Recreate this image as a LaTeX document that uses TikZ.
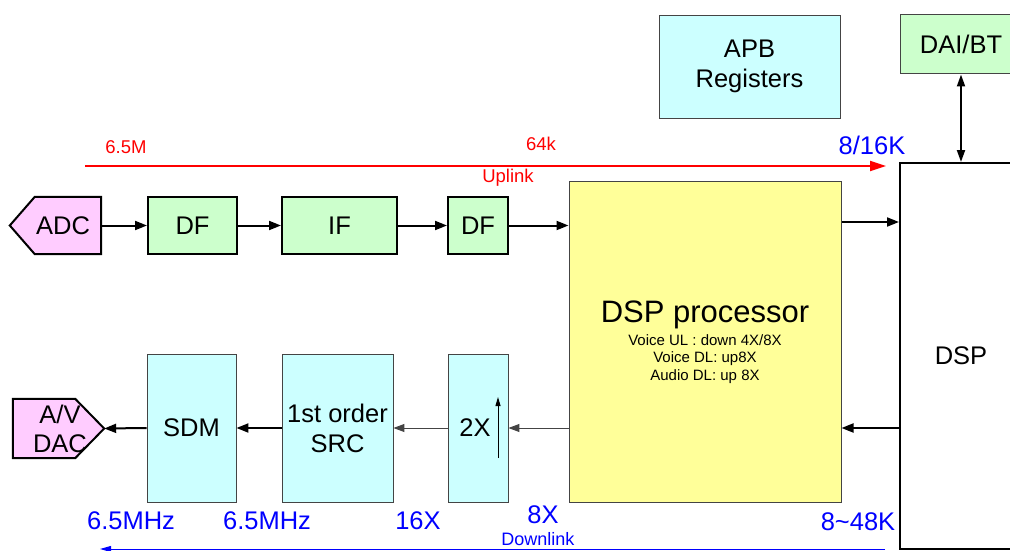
\documentclass[tikz,border=0pt]{standalone}
\usepackage{fontspec}
\setmainfont{Liberation Sans}
\usetikzlibrary{arrows.meta}
\definecolor{gfill}{HTML}{CCFFCC}
\definecolor{cfill}{HTML}{CCFFFF}
\definecolor{yfill}{HTML}{FFFF99}
\definecolor{pfill}{HTML}{FFCCFF}
\definecolor{ublue}{HTML}{0000FF}
\definecolor{ured}{HTML}{FF0000}
\definecolor{thingray}{HTML}{444444}
\begin{document}
\begin{tikzpicture}[x=1pt,y=-1pt,
  lbl/.style={font=\fontsize{25.5}{30}\selectfont, align=center},
  gbox/.style={draw=black, line width=2pt, fill=gfill, inner sep=0pt, lbl},
  cbox/.style={draw=thingray, line width=0.9pt, fill=cfill, inner sep=0pt, lbl},
  plain/.style={inner sep=0pt, lbl},
  thickarr/.style={line width=2pt, -{Triangle[length=12pt,width=9pt]}},
  thinarr/.style={line width=1pt, draw=thingray, -{Triangle[length=11pt,width=8pt]}},
  redtxt/.style={text=ured, font=\fontsize{18.5}{22}\selectfont, inner sep=0pt},
  bluetxt/.style={text=ublue, font=\fontsize{25.5}{30}\selectfont, inner sep=0pt}]
\useasboundingbox (0,0) rectangle (1010,551);
\clip (0,0) rectangle (1010,551);

% top blocks
\node[cbox, minimum width=181pt, minimum height=103pt] (apb) at (749.5,66.5) {APB\\Registers};
\node[gbox, line width=1pt, draw=thingray, minimum width=122pt, minimum height=59pt] (dai) at (961,44.5) {DAI/BT};

% DSP
\node[draw=black, line width=2pt, fill=white, inner sep=0pt, lbl, minimum width=122pt, minimum height=386pt] (dsp) at (961,356) {DSP};

% DSP processor
\node[draw=thingray, line width=1pt, fill=yfill, minimum width=272pt, minimum height=321pt, inner sep=0pt] (dspp) at (705,341.5) {};
\node[inner sep=0pt, font=\fontsize{31}{37}\selectfont] (dspt) at (705,315) {DSP processor};
\node[inner sep=0pt, font=\fontsize{15}{17.5}\selectfont, align=center, anchor=north] (dsps) at (705,334) {Voice UL : down 4X/8X\\Voice DL: up8X\\Audio DL: up 8X};

% uplink row
\node[minimum width=91pt, minimum height=57pt, inner sep=0pt] (adc) at (55.5,225.5) {};
\filldraw[fill=pfill, draw=black, line width=2pt, line join=miter]
  (adc.west) -- ([xshift=25pt]adc.north west) -- (adc.north east) -- (adc.south east) -- ([xshift=25pt]adc.south west) -- cycle;
\node[plain] (adct) at (63,225.5) {ADC};
\node[gbox, minimum width=89pt, minimum height=57pt] (df1) at (192.5,225.5) {DF};
\node[gbox, minimum width=115pt, minimum height=57pt] (if) at (339.5,225.5) {IF};
\node[gbox, minimum width=60pt, minimum height=57pt] (df2) at (478,225.5) {DF};

\draw[thickarr] (adc.east) -- (df1.west);
\draw[thickarr] (df1.east) -- (if.west);
\draw[thickarr] (if.east) -- (df2.west);
\draw[thickarr] (df2.east) -- (df2.east -| dspp.west);
\draw[thickarr] ([yshift=3.5pt]dspp.east |- df2.east) -- ([yshift=3.5pt]dsp.west |- df2.east);

% downlink row
\node[minimum width=91pt, minimum height=59pt, inner sep=0pt] (dac) at (58.5,428.5) {};
\filldraw[fill=pfill, draw=black, line width=2pt, line join=miter]
  (dac.north west) -- ([xshift=-29pt]dac.north east) -- (dac.east) -- ([xshift=-29pt]dac.south east) -- (dac.south west) -- cycle;
\node[plain] (dact) at (60,428.5) {A/V\\[-1pt]DAC};
\node[cbox, minimum width=89pt, minimum height=148pt] (sdm) at (191.5,428) {SDM};
\node[cbox, minimum width=111pt, minimum height=148pt] (src) at (337.5,428) {1st order\\SRC};
\node[cbox, minimum width=60pt, minimum height=148pt] (x2) at (478,428) {};
\node[plain] (x2t) at (475,428) {2X};
\coordinate (upS) at (498,458);
\coordinate (upE) at (498,397);
\draw[line width=1pt, -{Triangle[length=9pt,width=5pt]}] (upS) -- (upE);

\draw[thickarr] (dsp.west |- sdm.east) -- (dspp.east |- sdm.east);
\draw[thinarr] (dspp.west |- x2.east) -- (x2.east);
\draw[thinarr] (x2.west) -- (src.east);
\draw[thickarr] (src.west) -- (sdm.east);
\draw[thickarr] (sdm.west) -- (dac.east);

% DAI <-> DSP
\draw[line width=2pt, {Triangle[length=12pt,width=8pt]}-{Triangle[length=12pt,width=8pt]}] (dai.south) -- (dai.south |- dsp.north);

% uplink rate line
\coordinate (ulS) at (85,166);
\coordinate (ulE) at (886,166);
\draw[draw=ured, line width=2pt, -{Triangle[length=16pt,width=10pt]}] (ulS) -- (ulE);
\node[redtxt] (r1) at (126,147) {6.5M};
\node[redtxt] (r2) at (541,144) {64k};
\node[redtxt] (r3) at (508,178) {Uplink};
\node[bluetxt] (b0) at (872,145) {8/16K};

% downlink rate line
\coordinate (dlS) at (885,549);
\coordinate (dlE) at (100,549);
\draw[draw=ublue, line width=1pt, -{Triangle[length=11pt,width=6pt]}] (dlS) -- (dlE);
\node[bluetxt] (b1) at (131,521) {6.5MHz};
\node[bluetxt] (b2) at (267,521) {6.5MHz};
\node[bluetxt] (b3) at (418,521) {16X};
\node[bluetxt] (b4) at (543,515) {8X};
\node[text=ublue, font=\fontsize{18}{21}\selectfont, inner sep=0pt] (b5) at (538,539) {Downlink};
\node[bluetxt] (b6) at (858,522) {8\char`~48K};
\end{tikzpicture}
\end{document}
